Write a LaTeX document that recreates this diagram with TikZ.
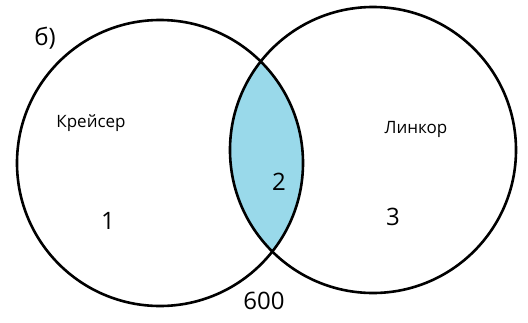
\documentclass[tikz,border=0pt]{standalone}
\usepackage{fontspec}
\setmainfont{Open Sans}
\definecolor{lensblue}{RGB}{153,217,234}
\begin{document}
\begin{tikzpicture}[x=1pt,y=-1pt,
  ring/.style={circle,draw=black,line width=2.6pt,minimum size=286pt,inner sep=0pt},
  bigtext/.style={font=\fontsize{24}{28}\selectfont,text=black},
  settext/.style={font=\fontsize{17}{20}\selectfont,text=black}]
\useasboundingbox (0,0) rectangle (528,322);
\begin{scope}
  \clip (160,163) circle (143);
  \fill[lensblue] (373,150) circle (143);
\end{scope}
\node[ring] (L) at (160,163) {};
\node[ring] (R) at (373,150) {};
\node[bigtext] (lbl) at (45,38) {б)};
\node[settext] (kr) at (91,123) {Крейсер};
\node[settext] (li) at (416,129) {Линкор};
\node[bigtext] (n1) at (108,221) {1};
\node[bigtext] (n2) at (279,182) {2};
\node[bigtext] (n3) at (393,217) {3};
\node[bigtext] (n600) at (264,301) {600};
\end{tikzpicture}
\end{document}
